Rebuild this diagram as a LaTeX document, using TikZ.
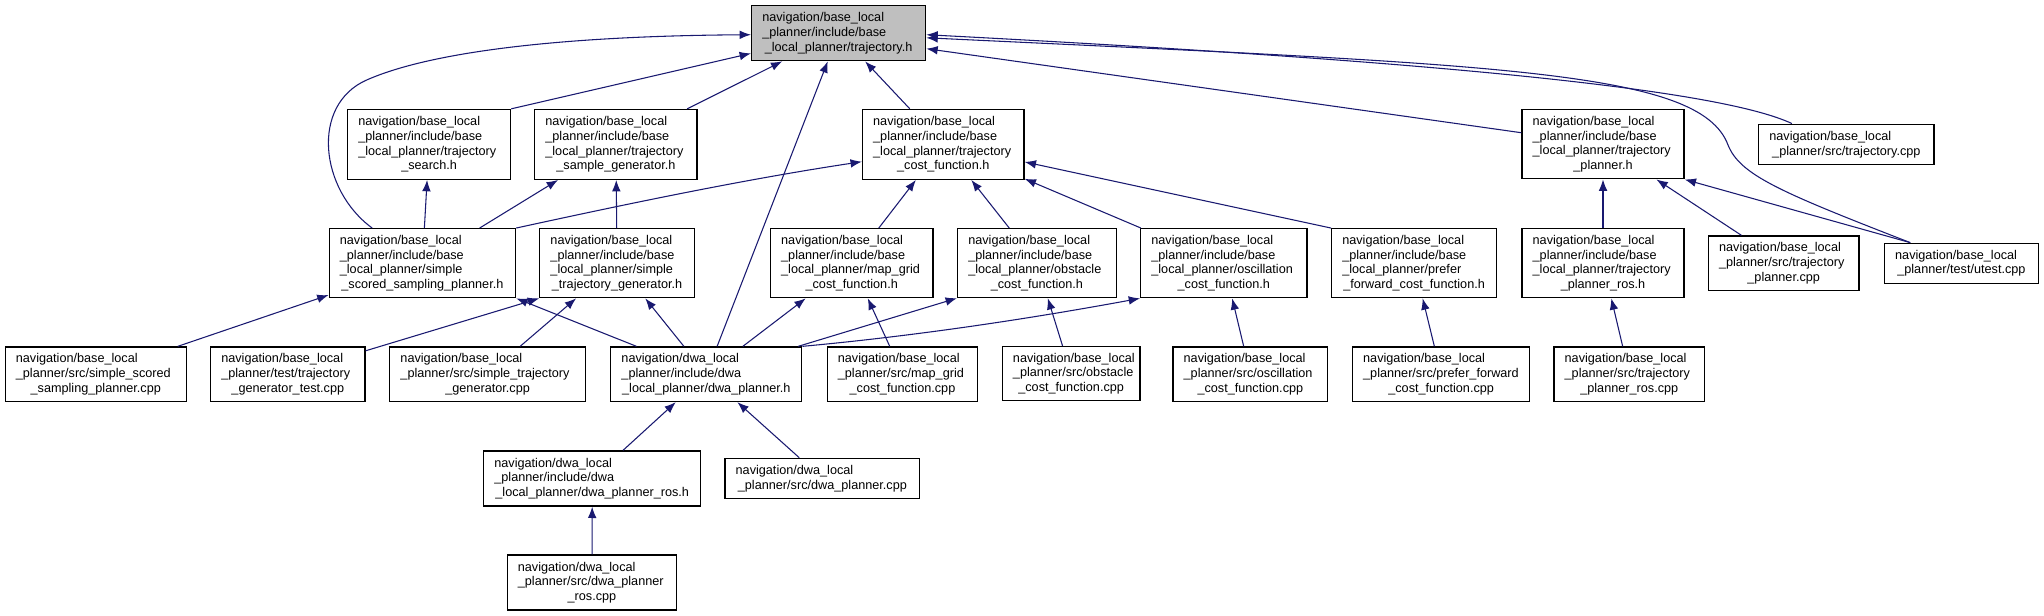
\documentclass[tikz,border=0pt]{standalone}
\usepackage{fontspec}
\setmainfont{Liberation Sans}
\usepackage{tikz}
\usetikzlibrary{arrows.meta}
\definecolor{depblue}{HTML}{191970}
\tikzset{
  filebox/.style={draw=black, line width=1pt, fill=white, align=left,
    inner xsep=8pt, inner ysep=0pt, font=\fontsize{9.5}{11}\selectfont},
  dep/.style={draw=depblue, line width=0.8pt, -{Latex[length=8.5pt,width=6.5pt]}}
}
\newcommand{\lastline}[1]{\mbox{}\nobreak\hfill\mbox{#1}\nobreak\hfill\mbox{}}
\newcommand{\fileNode}[7][]
        {
          \pgfmathsetmacro{\cx}{(#3+#5)/2}
          \pgfmathsetmacro{\cy}{(#4+#6)/2}
          \pgfmathsetmacro{\bw}{(#5-#3)*0.75}
          \pgfmathsetmacro{\bh}{(#6-#4)*0.75}
          \pgfmathsetmacro{\tw}{\bw-16}
          \node[filebox, #1, minimum width=\bw pt, minimum height=\bh pt,
                text width=\tw pt] (#2) at (\cx,\cy) {#7};
        }

\begin{document}
\begin{tikzpicture}[x=0.75pt,y=-0.75pt]
  \useasboundingbox (0,0) rectangle (2044,616);

  %%the included header
  \fileNode[fill=gray!50]{traj}{751.6}{5.7}{925.7}{60.7}
    {navigation/base\_local\\\_planner/include/base\\\lastline{\_local\_planner/trajectory.h}}

  %%second row
  \fileNode{search}{347.6}{109.5}{510.6}{179.3}
    {navigation/base\_local\\\_planner/include/base\\\_local\_planner/trajectory\\\lastline{\_search.h}}
  \fileNode{sampgen}{534.7}{109.5}{697.1}{179.3}
    {navigation/base\_local\\\_planner/include/base\\\_local\_planner/trajectory\\\lastline{\_sample\_generator.h}}
  \fileNode{costfn}{862.5}{109.5}{1024}{179.3}
    {navigation/base\_local\\\_planner/include/base\\\_local\_planner/trajectory\\\lastline{\_cost\_function.h}}
  \fileNode{tplanner}{1522}{109.7}{1684}{178.8}
    {navigation/base\_local\\\_planner/include/base\\\_local\_planner/trajectory\\\lastline{\_planner.h}}
  \fileNode{trajcpp}{1758.7}{124.2}{1934}{164.7}
    {navigation/base\_local\\\lastline{\_planner/src/trajectory.cpp}}

  %%third row
  \fileNode{ssp}{329.2}{228.7}{515.6}{297.7}
    {navigation/base\_local\\\_planner/include/base\\\_local\_planner/simple\\\lastline{\_scored\_sampling\_planner.h}}
  \fileNode{stg}{539.8}{228.7}{694.3}{297.7}
    {navigation/base\_local\\\_planner/include/base\\\_local\_planner/simple\\\lastline{\_trajectory\_generator.h}}
  \fileNode{mapgrid}{770.5}{228.7}{932.9}{297.7}
    {navigation/base\_local\\\_planner/include/base\\\_local\_planner/map\_grid\\\lastline{\_cost\_function.h}}
  \fileNode{obst}{957.6}{228.7}{1116.2}{297.5}
    {navigation/base\_local\\\_planner/include/base\\\_local\_planner/obstacle\\\lastline{\_cost\_function.h}}
  \fileNode{osc}{1140.7}{228.7}{1306.9}{297.7}
    {navigation/base\_local\\\_planner/include/base\\\_local\_planner/oscillation\\\lastline{\_cost\_function.h}}
  \fileNode{prefer}{1331.6}{228.7}{1496.6}{297.7}
    {navigation/base\_local\\\_planner/include/base\\\_local\_planner/prefer\\\lastline{\_forward\_cost\_function.h}}
  \fileNode{tpros}{1522}{228.7}{1684}{297.7}
    {navigation/base\_local\\\_planner/include/base\\\_local\_planner/trajectory\\\lastline{\_planner\_ros.h}}
  \fileNode{tplannercpp}{1708.4}{236}{1859}{290.3}
    {navigation/base\_local\\\_planner/src/trajectory\\\lastline{\_planner.cpp}}
  \fileNode{utest}{1884.5}{243.3}{2038.3}{283.3}
    {navigation/base\_local\\\lastline{\_planner/test/utest.cpp}}

  %%fourth row
  \fileNode{sspcpp}{5.2}{347}{186.4}{401.5}
    {navigation/base\_local\\\_planner/src/simple\_scored\\\lastline{\_sampling\_planner.cpp}}
  \fileNode{tgtest}{210.6}{347}{365}{401.5}
    {navigation/base\_local\\\_planner/test/trajectory\\\lastline{\_generator\_test.cpp}}
  \fileNode{stgcpp}{389.8}{347}{585.4}{401.5}
    {navigation/base\_local\\\_planner/src/simple\_trajectory\\\lastline{\_generator.cpp}}
  \fileNode{dwa}{610.8}{347}{801.8}{401.5}
    {navigation/dwa\_local\\\_planner/include/dwa\\\lastline{\_local\_planner/dwa\_planner.h}}
  \fileNode{mapgridcpp}{827.2}{347}{977.8}{401.5}
    {navigation/base\_local\\\_planner/src/map\_grid\\\lastline{\_cost\_function.cpp}}
  \fileNode{obstcpp}{1002.3}{346.7}{1140}{400.7}
    {navigation/base\_local\\\_planner/src/obstacle\\\lastline{\_cost\_function.cpp}}
  \fileNode{osccpp}{1173}{347}{1327.7}{401.5}
    {navigation/base\_local\\\_planner/src/oscillation\\\lastline{\_cost\_function.cpp}}
  \fileNode{prefercpp}{1352.5}{347}{1529.8}{401.5}
    {navigation/base\_local\\\_planner/src/prefer\_forward\\\lastline{\_cost\_function.cpp}}
  \fileNode{tproscpp}{1554}{347}{1704.5}{401.5}
    {navigation/base\_local\\\_planner/src/trajectory\\\lastline{\_planner\_ros.cpp}}

  %%dwa files below
  \fileNode{dwaros}{483.7}{451}{700.8}{506}
    {navigation/dwa\_local\\\_planner/include/dwa\\\lastline{\_local\_planner/dwa\_planner\_ros.h}}
  \fileNode{dwacpp}{725}{458.3}{919.8}{498.7}
    {navigation/dwa\_local\\\lastline{\_planner/src/dwa\_planner.cpp}}
  \fileNode{dwaroscpp}{507.2}{555}{676.7}{610}
    {navigation/dwa\_local\\\_planner/src/dwa\_planner\\\lastline{\_ros.cpp}}

  %%straight include edges
  \foreach \a/\b in {search.north east/traj, sampgen/traj, costfn/traj, dwa/traj,
      tplanner/traj.-10, ssp/search, ssp/sampgen, stg/sampgen,
      mapgrid/costfn, obst/costfn, osc/costfn, prefer.north west/costfn,
      sspcpp/ssp, dwa/ssp.south east, tgtest/stg.south west, stgcpp/stg, dwa/stg,
      dwa/mapgrid, dwa/obst.south west, mapgridcpp/mapgrid, obstcpp/obst,
      osccpp/osc, prefercpp/prefer, tproscpp/tpros, tpros/tplanner,
      tplannercpp/tplanner, utest.158/tplanner.south east,
      dwaros/dwa, dwacpp/dwa, dwaroscpp/dwaros} {
    \draw[dep] (\a) -- (\b);
  }

  %%curved include edges
  \draw[dep] (ssp.145) .. controls (320,190) and (310,105) .. (366.7,80)
      .. controls (430,52) and (560,36) .. (traj.181);
  \draw[dep] (ssp.north east) .. controls (631,203) and (747,179) .. (costfn.192);
  \draw[dep] (dwa.north east) .. controls (915,336) and (1028,319) .. (osc.south west);
  \draw[dep] (trajcpp.159) .. controls (1720,90) and (1450,62) .. (traj.-1);
  \draw[dep] (utest.158) .. controls (1780,192) and (1740,175) .. (1728,145)
      .. controls (1700,70) and (1500,65) .. (traj.-3);
\end{tikzpicture}
\end{document}
